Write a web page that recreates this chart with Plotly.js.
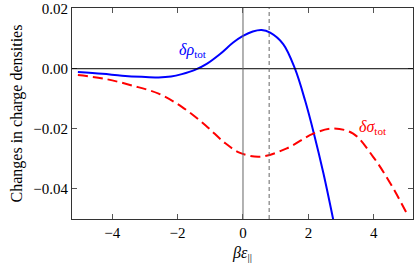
<!DOCTYPE html>
<html><head><meta charset="utf-8">
<script src="https://cdn.plot.ly/plotly-3.0.1.min.js"></script>
<style>html,body{margin:0;padding:0;background:#fff}#c{width:415px;height:268px}</style>
</head><body><div id="c"></div>
<script>
const rhoX = [-5.05, -4.3, -3.7, -3.1, -2.58, -2.2, -1.87, -1.47, -1.11, -0.7, -0.3, 0.0, 0.3, 0.57, 0.83, 1.23, 1.59, 1.9, 2.17, 2.46, 2.76];
const rhoY = [-0.0011, -0.0017, -0.0023, -0.0027, -0.0029, -0.0026, -0.0018, -0.0004, 0.0016, 0.0049, 0.0087, 0.0109, 0.0124, 0.0129, 0.0120, 0.0082, 0.0, -0.0106, -0.0216, -0.0348, -0.0502];
const sigX = [-5.05, -4.21, -3.39, -2.58, -1.87, -1.15, -0.54, -0.09, 0.52, 1.34, 2.15, 2.76, 3.37, 3.98, 4.5, 5.05];
const sigY = [-0.0021, -0.0034, -0.0056, -0.0083, -0.0127, -0.0188, -0.0248, -0.0280, -0.0293, -0.0265, -0.0216, -0.0199, -0.0216, -0.0293, -0.0380, -0.0490];
const markerX = 0.8;
const xTicks = [-4, -2, 0, 2, 4];
const yTicks = [0.02, 0.00, -0.02, -0.04];
const font = '"Liberation Serif", serif';

const traces = [
  {x: rhoX, y: rhoY, mode: 'lines', line: {color: '#0000ff', width: 2, shape: 'spline', smoothing: 1}, hoverinfo: 'skip'},
  {x: sigX, y: sigY, mode: 'lines', line: {color: '#ff0000', width: 2, dash: '10px,5px', shape: 'spline', smoothing: 1}, hoverinfo: 'skip'}
];
const layout = {
  width: 415, height: 268,
  margin: {l: 72, r: 2, t: 8, b: 49},
  paper_bgcolor: '#fff', plot_bgcolor: '#fff',
  showlegend: false,
  font: {family: font, size: 15, color: '#000'},
  xaxis: {range: [-5.23, 5.2], tickmode: 'array', tickvals: xTicks, ticktext: xTicks.map(v => v < 0 ? '\u2212' + Math.abs(v) : String(v)),
    ticks: 'inside', ticklen: 5, tickcolor: '#555',
    showline: true, mirror: 'ticks', linecolor: '#333', linewidth: 1, showgrid: false, zeroline: false,
    tickfont: {family: font, size: 15},
    title: {text: '<i>βε</i><sub>||</sub>', font: {family: font, size: 16}, standoff: 6}},
  yaxis: {range: [-0.05, 0.0202], tickmode: 'array', tickvals: yTicks, ticktext: yTicks.map(v => (v < 0 ? '\u2212' : '') + Math.abs(v).toFixed(2)),
    ticks: 'inside', ticklen: 5, tickcolor: '#555',
    showline: true, mirror: 'ticks', linecolor: '#333', linewidth: 1, showgrid: false, zeroline: false,
    tickfont: {family: font, size: 15},
    title: {text: 'Changes in charge densities', font: {family: font, size: 16}, standoff: 6}},
  shapes: [
    {type: 'line', xref: 'paper', x0: 0, x1: 1, yref: 'y', y0: 0, y1: 0, line: {color: '#000', width: 1}},
    {type: 'line', xref: 'x', x0: 0, x1: 0, yref: 'paper', y0: 0, y1: 1, line: {color: '#666', width: 1}},
    {type: 'line', xref: 'x', x0: markerX, x1: markerX, yref: 'paper', y0: 0, y1: 1, line: {color: '#666', width: 1, dash: '4px,3px'}}
  ],
  annotations: [
    {x: -1.52, y: 0.0062, xref: 'x', yref: 'y', text: '<i>δρ</i><sub>tot</sub>', showarrow: false, font: {family: font, size: 16, color: '#0000ff'}},
    {x: 3.99, y: -0.0197, xref: 'x', yref: 'y', text: '<i>δσ</i><sub>tot</sub>', showarrow: false, font: {family: font, size: 16, color: '#ff0000'}}
  ]
};
Plotly.newPlot('c', traces, layout, {staticPlot: true, displayModeBar: false});
</script></body></html>
